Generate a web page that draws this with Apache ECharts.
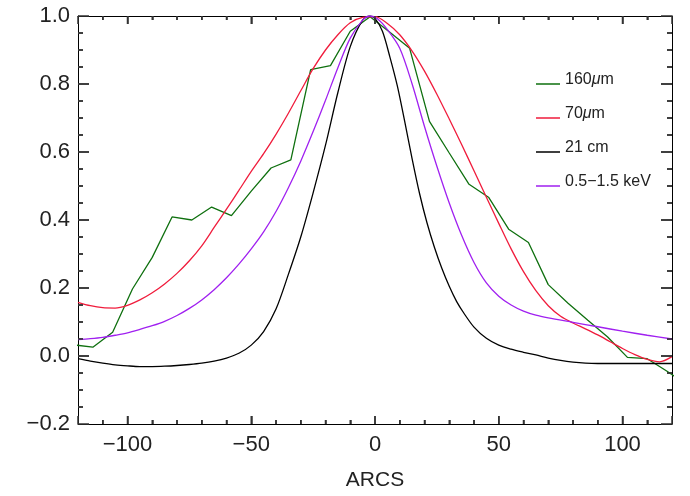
<!DOCTYPE html>
<html>
<head>
<meta charset="utf-8">
<script src="https://cdn.jsdelivr.net/npm/echarts@6/dist/echarts.min.js"></script>
<style>html,body{margin:0;padding:0;background:#fff}#c{width:690px;height:496px}</style>
</head>
<body>
<div id="c"></div>
<script>
// ---- data ----
var seriesNames = ['160μm', '70μm', '21 cm', '0.5−1.5 keV'];

var greenX = [-122, -114, -106, -98, -90, -82, -74, -66, -58, -50, -42, -34, -26, -18, -10, -2, 6, 14, 22, 30, 38, 46, 54, 62, 70, 78, 86, 94, 102, 110, 118, 126];
var greenY = [0.033, 0.026, 0.070, 0.197, 0.290, 0.409, 0.400, 0.438, 0.413, 0.485, 0.553, 0.577, 0.842, 0.854, 0.955, 0.998, 0.952, 0.905, 0.690, 0.597, 0.505, 0.466, 0.373, 0.334, 0.210, 0.155, 0.105, 0.056, -0.004, -0.008, -0.045, -0.085];

var redX = [-120, -115, -110, -105, -100, -95, -90, -85, -80, -75, -70, -65, -60, -55, -50, -45, -40, -35, -30, -25, -20, -15, -10, -5, 0, 5, 10, 15, 20, 25, 30, 35, 40, 45, 50, 55, 60, 65, 70, 75, 80, 85, 90, 95, 100, 105, 110, 115, 120];
var redY = [0.158, 0.148, 0.142, 0.141, 0.149, 0.165, 0.186, 0.212, 0.243, 0.280, 0.324, 0.378, 0.432, 0.487, 0.543, 0.595, 0.652, 0.714, 0.780, 0.845, 0.900, 0.945, 0.980, 0.996, 0.998, 0.978, 0.945, 0.897, 0.838, 0.770, 0.697, 0.622, 0.545, 0.467, 0.390, 0.315, 0.248, 0.192, 0.148, 0.117, 0.097, 0.080, 0.062, 0.042, 0.022, 0.004, -0.010, -0.017, -0.002];

var blackX = [-120, -115, -110, -105, -100, -95, -90, -85, -80, -75, -70, -65, -60, -55, -50, -45, -40, -35, -30, -25, -20, -15, -10, -5, -2, 0, 3, 6, 9, 12, 15, 18, 21, 24, 27, 30, 33, 36, 40, 45, 50, 55, 60, 65, 70, 75, 80, 85, 90, 100, 110, 120];
var blackY = [-0.008, -0.015, -0.021, -0.026, -0.029, -0.031, -0.031, -0.030, -0.028, -0.025, -0.021, -0.015, -0.006, 0.008, 0.032, 0.072, 0.138, 0.240, 0.350, 0.480, 0.620, 0.775, 0.910, 0.988, 1.000, 0.993, 0.955, 0.880, 0.795, 0.690, 0.580, 0.478, 0.392, 0.320, 0.258, 0.205, 0.160, 0.125, 0.085, 0.052, 0.032, 0.020, 0.011, 0.003, -0.006, -0.013, -0.018, -0.021, -0.022, -0.022, -0.022, -0.022];

var purpleX = [-120, -115, -110, -105, -100, -95, -90, -85, -80, -75, -70, -65, -60, -55, -50, -45, -40, -35, -30, -25, -20, -15, -10, -5, -2, 1, 5, 10, 15, 20, 25, 30, 35, 40, 45, 50, 55, 60, 65, 70, 80, 90, 100, 110, 120];
var purpleY = [0.048, 0.051, 0.055, 0.061, 0.068, 0.078, 0.089, 0.102, 0.119, 0.140, 0.165, 0.195, 0.230, 0.270, 0.315, 0.365, 0.425, 0.495, 0.573, 0.660, 0.752, 0.848, 0.935, 0.988, 1.000, 0.992, 0.960, 0.905, 0.800, 0.675, 0.558, 0.450, 0.355, 0.275, 0.215, 0.176, 0.150, 0.132, 0.120, 0.112, 0.099, 0.086, 0.073, 0.061, 0.050];

// axis tick positions (major ticks carry labels)
var xMajorTicks = [-100, -50, 0, 50, 100];
var xMinorTicks = [-110, -90, -80, -70, -60, -40, -30, -20, -10, 10, 20, 30, 40, 60, 70, 80, 90, 110];
var yMajorTicks = [0.0, 0.2, 0.4, 0.6, 0.8];
var yMinorTicks = [-0.15, -0.1, -0.05, 0.05, 0.1, 0.15, 0.25, 0.3, 0.35, 0.45, 0.5, 0.55, 0.65, 0.7, 0.75, 0.85, 0.9, 0.95];

var colors = ['#0f700f', '#f01c3c', '#000000', '#a020f0'];

// ---- build ----
function pairs(xs, ys) { return xs.map(function (x, i) { return [x, ys[i]]; }); }
var allData = [pairs(greenX, greenY), pairs(redX, redY), pairs(blackX, blackY), pairs(purpleX, purpleY)];
var smoothFlags = [false, true, true, true];

var FONT = 'Liberation Sans';
var TICK = '#333';
var TW = 1.5;
var fmtX = function (v) { return v < 0 ? '\u2212' + (-v) : String(v); };
var fmtY = function (v) { return (v < -1e-9 ? '\u2212' : '') + Math.abs(v).toFixed(1); };

function xAx(pos, showLabel) {
  return {
    type: 'value', position: pos, min: -120, max: 120, splitNumber: 5,
    name: showLabel ? 'ARCS' : '', nameLocation: 'middle', nameGap: 46,
    nameTextStyle: { fontFamily: FONT, fontSize: 21, color: '#222' },
    axisLine: { show: true, onZero: false, lineStyle: { color: '#000', width: 1 } },
    axisTick: { show: true, inside: true, length: 8, lineStyle: { color: TICK, width: TW } },
    minorTick: { show: true, splitNumber: 5, length: 4, lineStyle: { color: TICK, width: TW } },
    axisLabel: { show: showLabel, showMinLabel: false, showMaxLabel: false, margin: 10, formatter: fmtX,
      fontFamily: FONT, fontSize: 22, color: '#222' },
    splitLine: { show: false }
  };
}
function yAx(pos, showLabel) {
  return {
    type: 'value', position: pos, min: -0.2, max: 1.0, interval: 0.2,
    axisLine: { show: true, onZero: false, lineStyle: { color: '#000', width: 1 } },
    axisTick: { show: true, inside: true, length: 11, lineStyle: { color: TICK, width: TW } },
    minorTick: { show: true, splitNumber: 4, length: 5, lineStyle: { color: TICK, width: TW } },
    axisLabel: { show: showLabel, margin: 8, formatter: fmtY, fontFamily: FONT, fontSize: 22, color: '#222' },
    splitLine: { show: false }
  };
}

var series = seriesNames.map(function (n, i) {
  return {
    name: n, type: 'line', data: allData[i], xAxisIndex: 0, yAxisIndex: 0,
    smooth: smoothFlags[i] ? 0.3 : false, showSymbol: false, symbol: 'none',
    lineStyle: { color: colors[i], width: 1.3 }, itemStyle: { color: colors[i] }
  };
});

// inward ticks on all four sides, placed through the axis scales
function tickLine(x1, y1, x2, y2) {
  return { type: 'line', shape: { x1: x1, y1: y1, x2: x2, y2: y2 }, style: { stroke: TICK, lineWidth: TW } };
}
var xTickData = xMajorTicks.map(function (v) { return [v, 1]; }).concat(xMinorTicks.map(function (v) { return [v, 0]; }));
var yTickData = yMajorTicks.map(function (v) { return [1, v]; }).concat(yMinorTicks.map(function (v) { return [0, v]; }));
series.push({
  type: 'custom', name: 'xticks', data: xTickData, silent: true, animation: false, z: 20, clip: false,
  renderItem: function (params, api) {
    var cs = params.coordSys;
    var px = api.coord([api.value(0), 0])[0];
    var len = api.value(1) ? 8 : 4;
    var bottom = cs.y + cs.height, top = cs.y;
    return { type: 'group', children: [tickLine(px, bottom, px, bottom - len), tickLine(px, top, px, top + len)] };
  }
});
series.push({
  type: 'custom', name: 'yticks', data: yTickData, silent: true, animation: false, z: 20, clip: false,
  renderItem: function (params, api) {
    var cs = params.coordSys;
    var py = api.coord([0, api.value(1)])[1];
    var len = api.value(0) ? 11 : 5;
    var left = cs.x, right = cs.x + cs.width;
    return { type: 'group', children: [tickLine(left, py, left + len, py), tickLine(right, py, right - len, py)] };
  }
});

var chart = echarts.init(document.getElementById('c'));
chart.setOption({
  animation: false,
  grid: { left: 78, right: 18, top: 16, bottom: 70 },
  xAxis: [xAx('bottom', true), xAx('top', false)],
  yAxis: [yAx('left', true), yAx('right', false)],
  legend: {
    data: seriesNames, orient: 'vertical', left: 531, top: 67,
    icon: 'path://M0,0L0.05,0L0.05,0.05L0,0.05Z M0,8L24,8L24,9.4L0,9.4Z',
    itemWidth: 24, itemHeight: 9.4, itemGap: 18,
    selectedMode: false,
    itemStyle: { borderWidth: 0 },
    formatter: function (n) { return n.replace('μ', '{mu|μ}'); },
    textStyle: { fontFamily: FONT, fontSize: 16, color: '#222',
      rich: { mu: { fontFamily: FONT, fontSize: 16, fontStyle: 'italic', color: '#222' } } }
  },
  series: series
});
</script>
</body>
</html>
